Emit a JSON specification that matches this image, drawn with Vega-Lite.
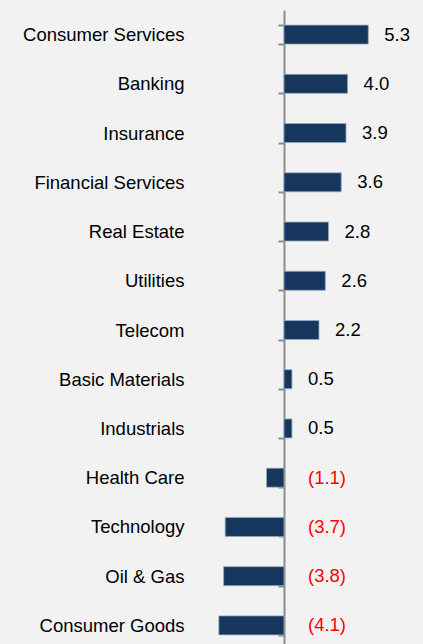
{
  "$schema": "https://vega.github.io/schema/vega-lite/v6.json",
  "width": 423,
  "height": 640,
  "autosize": {"type": "none"},
  "padding": {"top": 10, "left": 0, "right": 0, "bottom": 0},
  "background": "#f2f2f2",
  "config": {"view": {"stroke": null}},
  "data": {
    "values": [
      {"sector": "Consumer Services", "value": 5.3, "label": "5.3"},
      {"sector": "Banking", "value": 4.0, "label": "4.0"},
      {"sector": "Insurance", "value": 3.9, "label": "3.9"},
      {"sector": "Financial Services", "value": 3.6, "label": "3.6"},
      {"sector": "Real Estate", "value": 2.8, "label": "2.8"},
      {"sector": "Utilities", "value": 2.6, "label": "2.6"},
      {"sector": "Telecom", "value": 2.2, "label": "2.2"},
      {"sector": "Basic Materials", "value": 0.5, "label": "0.5"},
      {"sector": "Industrials", "value": 0.5, "label": "0.5"},
      {"sector": "Health Care", "value": -1.1, "label": "(1.1)"},
      {"sector": "Technology", "value": -3.7, "label": "(3.7)"},
      {"sector": "Oil & Gas", "value": -3.8, "label": "(3.8)"},
      {"sector": "Consumer Goods", "value": -4.1, "label": "(4.1)"}
    ]
  },
  "encoding": {
    "y": {
      "field": "sector",
      "type": "nominal",
      "sort": null,
      "scale": {"paddingInner": 0.614, "paddingOuter": 0.307},
      "axis": {
        "title": null,
        "orient": "left",
        "offset": -284,
        "tickBand": "extent",
        "tickSize": 6,
        "tickWidth": 2,
        "tickColor": "#8c8c8c",
        "domainColor": "#8c8c8c",
        "domainWidth": 2,
        "labelPadding": 94,
        "labelFont": "Liberation Sans",
        "labelFontSize": 18.5,
        "labelColor": "#000000",
        "labelLimit": 300
      }
    }
  },
  "layer": [
    {
      "mark": {"type": "bar", "color": "#17365d", "stroke": "#9aa9bf", "strokeWidth": 0.8},
      "encoding": {
        "x": {
          "field": "value",
          "type": "quantitative",
          "scale": {"domain": [-17.862, 8.742], "nice": false, "zero": false},
          "axis": null
        }
      }
    },
    {
      "transform": [{"filter": "datum.value >= 0"}],
      "mark": {"type": "text", "align": "left", "baseline": "middle", "dx": 16, "font": "Liberation Sans", "fontSize": 18.5, "color": "#000000"},
      "encoding": {
        "x": {"field": "value", "type": "quantitative"},
        "text": {"field": "label"}
      }
    },
    {
      "transform": [{"filter": "datum.value < 0"}],
      "mark": {"type": "text", "align": "center", "baseline": "middle", "dx": 43, "font": "Liberation Sans", "fontSize": 18.5, "color": "#ff0000"},
      "encoding": {
        "x": {"datum": 0, "type": "quantitative"},
        "text": {"field": "label"}
      }
    }
  ]
}
